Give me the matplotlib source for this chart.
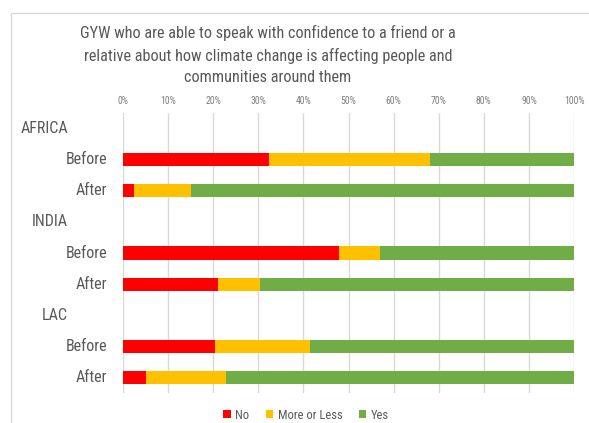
import matplotlib
matplotlib.use("Agg")
import matplotlib.pyplot as plt
from matplotlib import font_manager
from matplotlib.patches import Rectangle
from matplotlib.transforms import blended_transform_factory

# Survey results (% of respondents)
regions = ["AFRICA", "INDIA", "LAC"]
periods = ["Before", "After"]
no_vals = [32.4, 2.4, 48.0, 21.1, 20.3, 5.0]
more_or_less_vals = [35.6, 12.6, 9.0, 9.3, 21.2, 17.9]
yes_vals = [32.0, 85.0, 43.0, 69.6, 58.5, 77.1]
series_names = ["No", "More or Less", "Yes"]
series_colors = ["#FF0000", "#FFC000", "#70AD47"]
tick_labels = ["0%", "10%", "20%", "30%", "40%", "50%", "60%", "70%", "80%", "90%", "100%"]
title = ("GYW who are able to speak with confidence to a friend or a\n"
         "relative about how climate change is affecting people and\n"
         "communities around them")

available = {f.name for f in font_manager.fontManager.ttflist}
family = [f for f in ["Liberation Sans Narrow", "Roboto Condensed", "Open Sans Condensed",
                      "Roboto", "DejaVu Sans"] if f in available] or ["DejaVu Sans"]
plt.rcParams["font.family"] = family

W, H = 589, 423
fig = plt.figure(figsize=(W / 100, H / 100), dpi=100)
fig.patch.set_facecolor("white")

# Chart-area border
fig.add_artist(Rectangle((11 / W, -0.1), 1.2, (H - 13) / H + 0.1, transform=fig.transFigure,
                         fill=False, edgecolor="#d9d9d9", linewidth=1.0))

ax = fig.add_axes([123 / W, (H - 393) / H, (574 - 123) / W, (393 - 113) / H])

# Row layout: a header row per region followed by its Before/After bars
rows = []
for r in regions:
    rows.append(("group", r))
    for p in periods:
        rows.append(("bar", p))
n_rows = len(rows)
bar_pos = [i for i, (kind, _) in enumerate(rows) if kind == "bar"]

left = [0.0] * len(no_vals)
for vals, name, color in zip([no_vals, more_or_less_vals, yes_vals], series_names, series_colors):
    ax.barh(bar_pos, vals, left=left, height=0.42, color=color, label=name, zorder=3)
    left = [a + b for a, b in zip(left, vals)]

ax.set_xlim(0, 100)
ax.set_ylim(n_rows - 0.5, -0.5)
ax.set_xticks(range(0, 101, 10))
ax.set_xticklabels(tick_labels)
ax.xaxis.tick_top()
ax.tick_params(axis="x", length=0, labelsize=7, labelcolor="#7f7f7f", pad=5)
ax.set_yticks([])
for s in ax.spines.values():
    s.set_visible(False)
ax.grid(axis="x", color="#d9d9d9", linewidth=1.0, zorder=0)

# Category labels
label_tf = blended_transform_factory(fig.transFigure, ax.transData)
for i, (kind, label) in enumerate(rows):
    x_px = 68 if kind == "group" else 107
    ax.text(x_px / W, i, label, transform=label_tf,
            ha="right", va="center", fontsize=11.5, color="#595959")

fig.text(268 / W, 1 - 55 / H, title, ha="center", va="center", fontsize=11.7,
         color="#595959", linespacing=1.5)

handles, labels = ax.get_legend_handles_labels()
fig.legend(handles, labels, loc="center", bbox_to_anchor=(306 / W, 1 - 415 / H), ncol=3,
           frameon=False, fontsize=9, labelcolor="#595959", handlelength=0.6, handleheight=0.6,
           handletextpad=0.35, columnspacing=1.3)

fig.savefig("out.png", dpi=100, facecolor="white")
